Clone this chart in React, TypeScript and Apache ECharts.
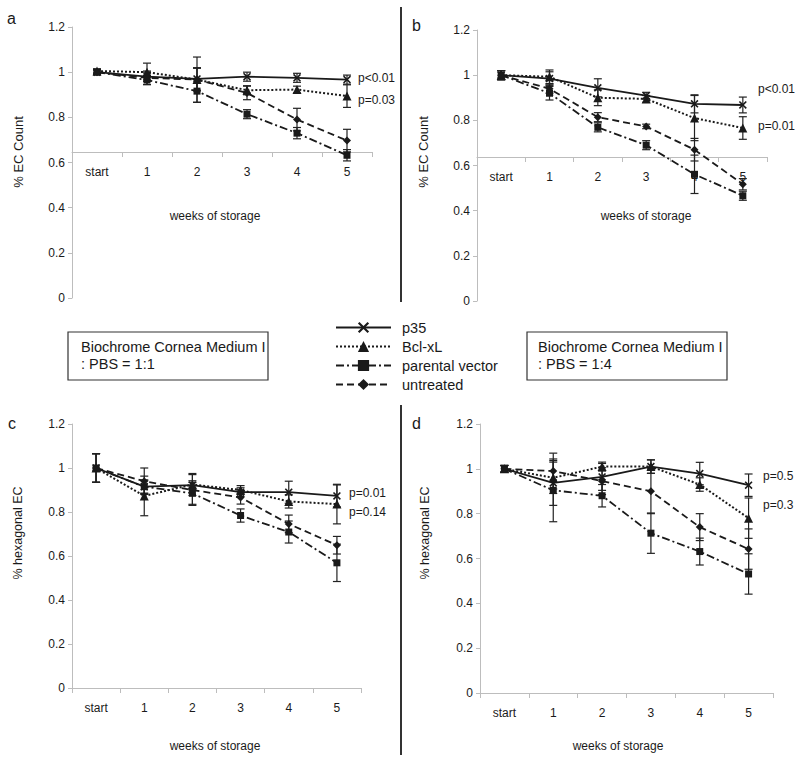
import React, { useEffect, useRef } from "react";
import * as echarts from "echarts";

const categories = ["start", "1", "2", "3", "4", "5"];
const yTicks = [0, 0.2, 0.4, 0.6, 0.8, 1, 1.2];
const seriesNames = ["p35", "Bcl-xL", "parental vector", "untreated"];

// Panel a: % EC Count, 1:1
const aP35 = [1.0, 0.98, 0.97, 0.98, 0.975, 0.967];
const aP35Err = [0.01, 0.02, 0.05, 0.02, 0.02, 0.02];
const aBcl = [1.005, 1.0, 0.967, 0.92, 0.923, 0.894];
const aBclErr = [0.01, 0.04, 0.1, 0.02, 0.015, 0.05];
const aPar = [1.0, 0.965, 0.916, 0.814, 0.73, 0.632];
const aParErr = [0.01, 0.02, 0.05, 0.02, 0.025, 0.025];
const aUnt = [1.0, 0.975, 0.967, 0.908, 0.79, 0.697];
const aUntErr = [0.01, 0.03, 0.05, 0.03, 0.05, 0.05];

// Panel b: % EC Count, 1:4
const bP35 = [1.0, 0.985, 0.944, 0.909, 0.873, 0.868];
const bP35Err = [0.02, 0.03, 0.04, 0.015, 0.04, 0.035];
const bBcl = [1.0, 0.993, 0.9, 0.895, 0.81, 0.766];
const bBclErr = [0.02, 0.03, 0.035, 0.015, 0.1, 0.05];
const bPar = [1.0, 0.92, 0.769, 0.69, 0.561, 0.466];
const bParErr = [0.02, 0.03, 0.02, 0.02, 0.085, 0.02];
const bUnt = [1.0, 0.94, 0.814, 0.773, 0.67, 0.517];
const bUntErr = [0.02, 0.02, 0.02, 0.01, 0.05, 0.025];

// Panel c: % hexagonal EC, 1:1
const cP35 = [1.0, 0.915, 0.922, 0.89, 0.89, 0.873];
const cP35Err = [0.065, 0.03, 0.02, 0.02, 0.05, 0.05];
const cBcl = [1.0, 0.873, 0.925, 0.9, 0.848, 0.836];
const cBclErr = [0.065, 0.09, 0.05, 0.02, 0.03, 0.09];
const cPar = [1.0, 0.915, 0.885, 0.784, 0.709, 0.569];
const cParErr = [0.065, 0.03, 0.05, 0.03, 0.05, 0.085];
const cUnt = [1.0, 0.94, 0.9, 0.866, 0.746, 0.649];
const cUntErr = [0.065, 0.06, 0.07, 0.03, 0.04, 0.04];

// Panel d: % hexagonal EC, 1:4
const dP35 = [1.0, 0.937, 0.964, 1.01, 0.979, 0.927];
const dP35Err = [0.015, 0.1, 0.06, 0.03, 0.05, 0.05];
const dBcl = [1.0, 0.96, 1.01, 1.01, 0.93, 0.78];
const dBclErr = [0.015, 0.07, 0.02, 0.03, 0.03, 0.09];
const dPar = [1.0, 0.904, 0.88, 0.713, 0.631, 0.531];
const dParErr = [0.015, 0.14, 0.05, 0.09, 0.06, 0.09];
const dUnt = [1.0, 0.99, 0.945, 0.9, 0.74, 0.642];
const dUntErr = [0.015, 0.08, 0.06, 0.1, 0.06, 0.09];

const pLabels = [
  ["p<0.01", "p=0.03"],
  ["p<0.01", "p=0.01"],
  ["p=0.01", "p=0.14"],
  ["p=0.5", "p=0.3"],
];

const FONT = "'Liberation Sans', Arial, sans-serif";
const INK = "#1a1a1a";
const AXIS = "#bdbdbd";

const X_SYMBOL =
  "path://M1.4,0 L5,3.6 L8.6,0 L10,1.4 L6.4,5 L10,8.6 L8.6,10 L5,6.4 L1.4,10 L0,8.6 L3.6,5 L0,1.4 Z";

const styles = [
  { symbol: X_SYMBOL, size: 8, type: "solid" as any, width: 1.8 },
  { symbol: "triangle", size: 9, type: "dotted" as any, width: 2 },
  { symbol: "rect", size: 7, type: [8, 3, 2, 3] as any, width: 1.8 },
  { symbol: "diamond", size: 8, type: [7, 4] as any, width: 1.8 },
];

const panels = [
  {
    grid: { left: 72, top: 27, width: 300, height: 271 },
    xOffset: -146,
    data: [aP35, aBcl, aPar, aUnt],
    err: [aP35Err, aBclErr, aParErr, aUntErr],
  },
  {
    grid: { left: 477, top: 30, width: 290, height: 271 },
    xOffset: -144,
    data: [bP35, bBcl, bPar, bUnt],
    err: [bP35Err, bBclErr, bParErr, bUntErr],
  },
  {
    grid: { left: 72, top: 424, width: 289, height: 264 },
    xOffset: 0,
    data: [cP35, cBcl, cPar, cUnt],
    err: [cP35Err, cBclErr, cParErr, cUntErr],
  },
  {
    grid: { left: 480, top: 424, width: 293, height: 269 },
    xOffset: 0,
    data: [dP35, dBcl, dPar, dUnt],
    err: [dP35Err, dBclErr, dParErr, dUntErr],
  },
];

function text(x: number, y: number, t: string, size: number, align = "left", rotation = 0) {
  return {
    type: "text",
    x,
    y,
    rotation,
    style: {
      text: t,
      fill: INK,
      fontSize: size,
      fontFamily: FONT,
      align,
      verticalAlign: "middle",
      textAlign: align,
      textVerticalAlign: "middle",
    },
  };
}

export default function App() {
  const ref = useRef<HTMLDivElement>(null);
  useEffect(() => {
    if (!ref.current) return;
    const chart = echarts.init(ref.current, undefined, { renderer: "svg" });

    const grids: any[] = [];
    const xAxes: any[] = [];
    const yAxes: any[] = [];
    const series: any[] = [];

    panels.forEach((p, i) => {
      grids.push({ ...p.grid, containLabel: false, outerBoundsMode: "none" });
      xAxes.push({
        type: "category",
        gridIndex: i,
        data: categories,
        boundaryGap: true,
        offset: p.xOffset,
        axisLine: { onZero: false, lineStyle: { color: AXIS, width: 1 } },
        axisTick: { show: true, length: 5, lineStyle: { color: AXIS } },
        axisLabel: { color: INK, fontSize: 12, fontFamily: FONT, margin: 14 },
        splitLine: { show: false },
      });
      yAxes.push({
        type: "value",
        gridIndex: i,
        min: 0,
        max: 1.2,
        interval: 0.2,
        axisLine: { show: true, lineStyle: { color: AXIS, width: 1 } },
        axisTick: { show: true, length: 4, lineStyle: { color: AXIS } },
        axisLabel: {
          color: INK,
          fontSize: 12,
          fontFamily: FONT,
          margin: 7,
          formatter: (v: number) => {
            const t = yTicks.find((k) => Math.abs(k - v) < 1e-6);
            return t === undefined ? "" : String(Math.round(t * 10) / 10);
          },
        },
        splitLine: { show: false },
      });
      p.data.forEach((vals, s) => {
        const st = styles[s];
        series.push({
          type: "line",
          name: seriesNames[s],
          xAxisIndex: i,
          yAxisIndex: i,
          data: vals,
          symbol: st.symbol,
          symbolSize: st.size,
          showAllSymbol: true,
          itemStyle: { color: INK },
          lineStyle: { color: INK, width: st.width, type: st.type },
          z: 3,
        });
      });
      const errData: number[][] = [];
      p.data.forEach((vals, s) => {
        vals.forEach((v, k) => errData.push([k, v, p.err[s][k]]));
      });
      series.push({
        type: "custom",
        xAxisIndex: i,
        yAxisIndex: i,
        data: errData,
        encode: { x: 0, y: 1 },
        z: 2,
        renderItem: (params: any, api: any) => {
          const x = api.value(0);
          const y = api.value(1);
          const e = api.value(2);
          const top = api.coord([x, y + e]);
          const bot = api.coord([x, y - e]);
          const w = 4;
          const st = { stroke: "#222", lineWidth: 1.2 };
          return {
            type: "group",
            children: [
              { type: "line", shape: { x1: top[0], y1: top[1], x2: bot[0], y2: bot[1] }, style: st },
              { type: "line", shape: { x1: top[0] - w, y1: top[1], x2: top[0] + w, y2: top[1] }, style: st },
              { type: "line", shape: { x1: bot[0] - w, y1: bot[1], x2: bot[0] + w, y2: bot[1] }, style: st },
            ],
          };
        },
      });
    });

    const graphic: any[] = [
      text(7, 18, "a", 16),
      text(412, 25, "b", 16),
      text(8, 423, "c", 16),
      text(412, 423, "d", 16),
      text(18, 152, "% EC Count", 13, "center", Math.PI / 2),
      text(423, 152, "% EC Count", 13, "center", Math.PI / 2),
      text(18, 533, "% hexagonal EC", 12.5, "center", Math.PI / 2),
      text(425, 533, "% hexagonal EC", 12.5, "center", Math.PI / 2),
      text(215, 216, "weeks of storage", 12, "center"),
      text(646, 216, "weeks of storage", 12, "center"),
      text(215, 746, "weeks of storage", 12, "center"),
      text(618, 746, "weeks of storage", 12, "center"),
      text(358, 78, pLabels[0][0], 12),
      text(358, 100, pLabels[0][1], 12),
      text(758, 89, pLabels[1][0], 12),
      text(758, 126, pLabels[1][1], 12),
      text(349, 493, pLabels[2][0], 12),
      text(349, 512, pLabels[2][1], 12),
      text(763, 476, pLabels[3][0], 12),
      text(763, 505, pLabels[3][1], 12),
      { type: "line", shape: { x1: 401, y1: 7, x2: 401, y2: 302 }, style: { stroke: "#333", lineWidth: 2 } },
      { type: "line", shape: { x1: 401, y1: 405, x2: 401, y2: 755 }, style: { stroke: "#333", lineWidth: 2 } },
      { type: "rect", shape: { x: 68, y: 332, width: 200, height: 48 }, style: { fill: "#fff", stroke: "#333", lineWidth: 1.2 } },
      text(81, 347, "Biochrome Cornea Medium I", 14.5),
      text(81, 364, ": PBS = 1:1", 14.5),
      { type: "rect", shape: { x: 527, y: 332, width: 200, height: 48 }, style: { fill: "#fff", stroke: "#333", lineWidth: 1.2 } },
      text(538, 347, "Biochrome Cornea Medium I", 14.5),
      text(538, 364, ": PBS = 1:4", 14.5),
    ];

    chart.setOption({
      animation: false,
      backgroundColor: "#fff",
      textStyle: { fontFamily: FONT },
      grid: grids,
      xAxis: xAxes,
      yAxis: yAxes,
      series,
      legend: {
        data: seriesNames,
        orient: "vertical",
        left: 335,
        top: 320,
        itemWidth: 55,
        itemHeight: 14,
        itemGap: 4,
        padding: 0,
        textStyle: { color: INK, fontSize: 14.5, fontFamily: FONT, padding: [0, 0, 0, 6] },
        selectedMode: false,
      },
      graphic,
    });
    return () => chart.dispose();
  }, []);
  return (
    <div
      ref={ref}
      style={{ position: "absolute", left: 0, top: 0, width: 800, height: 766, background: "#fff" }}
    />
  );
}
